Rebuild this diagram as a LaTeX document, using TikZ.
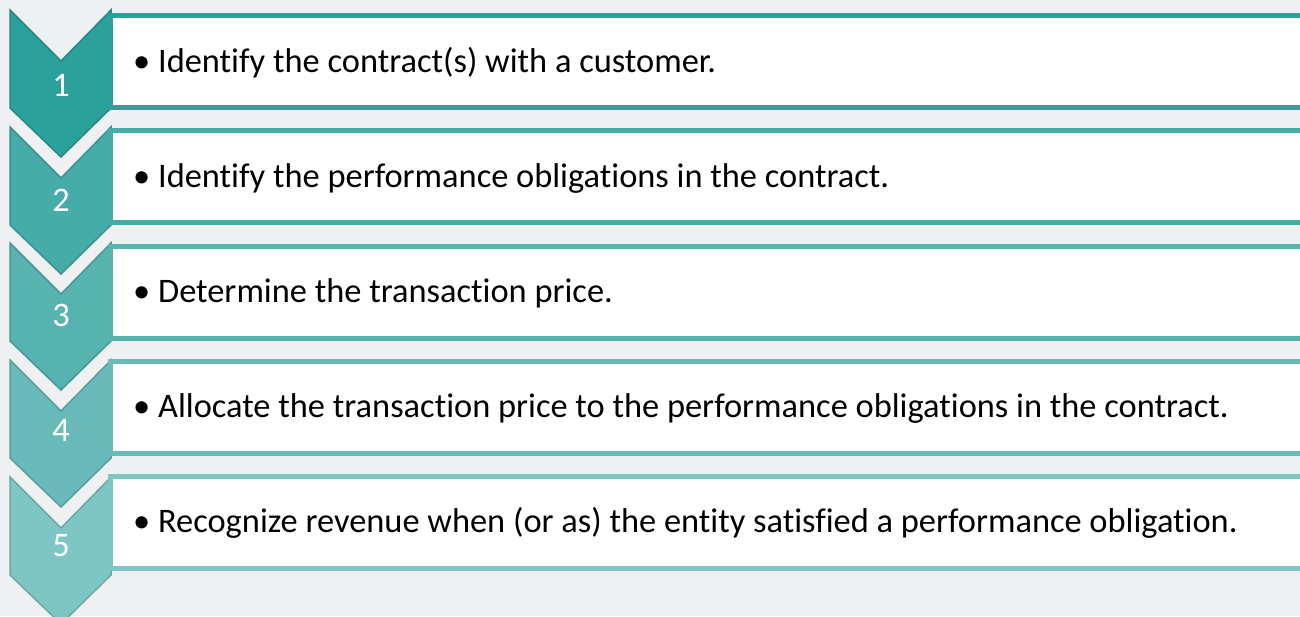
\documentclass[tikz,border=0pt]{standalone}
\usepackage{fontspec}
\setmainfont{Carlito}[RawFeature=-liga]
\definecolor{Bg}{RGB}{238, 240, 242}
\definecolor{Teal1}{RGB}{42, 161, 155}
\definecolor{Teal2}{RGB}{69, 172, 168}
\definecolor{Teal3}{RGB}{86, 179, 175}
\definecolor{Teal4}{RGB}{104, 187, 184}
\definecolor{Teal5}{RGB}{126, 198, 195}

\begin{document}
\begin{tikzpicture}[
        x=1pt, y=-1pt,
        font=\fontsize{34.4}{40}\selectfont,
        chev/.style = {line width=1.5pt, line join=miter},
        box/.style = {fill=white, line width=5pt},
        num/.style = {anchor=base, inner sep=0pt, text=white},
        steptext/.style = {anchor=base west, inner sep=0pt, text=black}
    ]
    \clip (0,0) rectangle (1300,616);
    \fill[Bg] (0,0) rectangle (1300,616);

    \draw[chev, fill=Teal1, draw=Teal1!85!black] (10,10) -- (61,61) -- (111,10) -- (111,108) -- (61,157) -- (10,108) -- cycle;
    \draw[chev, fill=Teal2, draw=Teal2!85!black] (10,127) -- (61,178) -- (111,127) -- (111,225) -- (61,274) -- (10,225) -- cycle;
    \draw[chev, fill=Teal3, draw=Teal3!85!black] (10,243) -- (61,294) -- (111,243) -- (111,341) -- (61,390) -- (10,341) -- cycle;
    \draw[chev, fill=Teal4, draw=Teal4!85!black] (10,360) -- (61,411) -- (111,360) -- (111,458) -- (61,507) -- (10,458) -- cycle;
    \draw[chev, fill=Teal5, draw=Teal5!85!black] (10,477) -- (61,528) -- (111,477) -- (111,575) -- (61,624) -- (10,575) -- cycle;

    \draw[box, draw=Teal1] (110,15.5) rectangle (1320,107.5);
    \draw[box, draw=Teal2] (110,130.75) rectangle (1320,222.75);
    \draw[box, draw=Teal3] (110,246) rectangle (1320,338);
    \draw[box, draw=Teal4] (110,361.25) rectangle (1320,453.25);
    \draw[box, draw=Teal5] (110,476.5) rectangle (1320,568.5);

    \node (n1) at (61,96)  [num] {1};
    \node (n2) at (61,211) [num] {2};
    \node (n3) at (61,326) [num] {3};
    \node (n4) at (61,441) [num] {4};
    \node (n5) at (61,556) [num] {5};

    \node (s1) at (133,72)  [steptext] {• Identify the contract(s) with a customer.};
    \node (s2) at (133,187) [steptext] {• Identify the performance obligations in the contract.};
    \node (s3) at (133,302) [steptext] {• Determine the transaction price.};
    \node (s4) at (133,417) [steptext] {• Allocate the transaction price to the performance obligations in the contract.};
    \node (s5) at (133,532) [steptext] {• Recognize revenue when (or as) the entity satisfied a performance obligation.};
\end{tikzpicture}
\end{document}
